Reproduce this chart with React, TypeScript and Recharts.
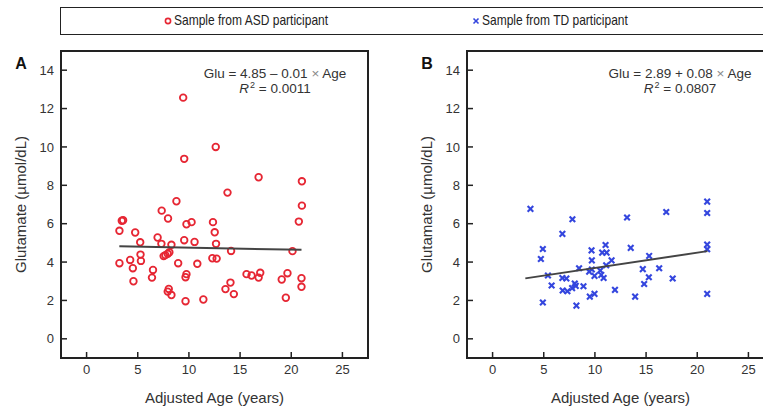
import { ScatterChart, Scatter, XAxis, YAxis, ReferenceArea } from 'recharts';

const ASD_COLOR = '#e62633';
const TD_COLOR = '#3446de';
const FIT_COLOR = '#444444';
const TEXT_COLOR = '#333333';

const AGE_TICKS = [0, 5, 10, 15, 20, 25];
const GLU_TICKS = [0, 2, 4, 6, 8, 10, 12, 14];

// Panel A: ASD participants
const ageA = [
  9.44, 12.62, 9.54, 16.81, 21.04, 13.77, 8.78, 21.04, 7.34, 3.44, 3.57, 7.96, 9.76, 10.26, 12.35, 20.74,
  3.21, 4.75, 12.52, 6.94, 5.24, 7.31, 8.29, 9.54, 10.55, 12.65, 14.12, 20.12, 5.27, 8.09, 7.93, 7.7, 7.53,
  4.26, 5.31, 3.21, 8.95, 10.82, 12.29, 12.71, 4.52, 6.49, 6.39, 9.76, 9.67, 4.58, 15.63, 16.12, 16.81,
  16.97, 19.07, 19.63, 21.0, 21.0, 14.06, 13.57, 14.39, 8.03, 7.93, 8.29, 9.67, 11.41, 19.47,
];
const gluA = [
  12.57, 10.0, 9.38, 8.42, 8.21, 7.62, 7.17, 6.94, 6.68, 6.15, 6.18, 6.27, 5.97, 6.08, 6.08, 6.11,
  5.63, 5.54, 5.55, 5.28, 5.03, 4.95, 4.9, 5.14, 5.05, 4.95, 4.58, 4.57, 4.39, 4.51, 4.43, 4.36, 4.31,
  4.11, 4.06, 3.94, 3.94, 3.91, 4.2, 4.18, 3.68, 3.59, 3.19, 3.37, 3.21, 3.0, 3.37, 3.3, 3.19,
  3.44, 3.09, 3.42, 3.16, 2.71, 2.93, 2.59, 2.33, 2.6, 2.46, 2.28, 1.96, 2.05, 2.14,
];
const fitAgeA = [3.2, 21.0];
const fitGluA = [4.82, 4.64];

// Panel B: TD participants
const ageB = [
  3.7, 20.97, 20.97, 16.97, 13.14, 7.8, 6.82, 4.91, 4.72, 20.97, 20.97, 13.5, 9.67, 11.04, 10.71, 11.14,
  9.7, 11.63, 15.3, 11.1, 5.41, 5.77, 4.91, 6.82, 7.21, 6.85, 7.31, 8.45, 7.77, 8.03, 8.13, 8.88, 8.19,
  9.44, 9.7, 9.96, 9.5, 9.96, 10.52, 10.62, 10.85, 11.96, 14.68, 16.28, 14.81, 15.27, 17.6, 13.93, 20.97,
];
const gluB = [
  6.77, 7.15, 6.56, 6.61, 6.32, 6.23, 5.47, 4.68, 4.16, 4.91, 4.67, 4.74, 4.61, 4.89, 4.49, 4.49,
  4.09, 4.09, 4.32, 3.83, 3.3, 2.78, 1.89, 3.17, 3.14, 2.52, 2.48, 3.68, 2.64, 2.88, 2.76, 2.74, 1.73,
  3.5, 3.61, 3.28, 2.2, 2.34, 3.56, 3.33, 3.17, 2.55, 3.63, 3.68, 2.86, 3.21, 3.14, 2.2, 2.34,
];
const fitAgeB = [3.2, 21.0];
const fitGluB = [3.15, 4.57];

const toPoints = (xs: number[], ys: number[]) => xs.map((x, i) => ({ x, y: ys[i] }));

const CircleShape = (props: any) => (
  <circle cx={props.cx} cy={props.cy} r={3.3} fill="none" stroke={ASD_COLOR} strokeWidth={1.8} />
);

const CrossShape = (props: any) => {
  const { cx, cy } = props;
  const s = 2.8;
  return (
    <g stroke={TD_COLOR} strokeWidth={2.1}>
      <line x1={cx - s} y1={cy - s} x2={cx + s} y2={cy + s} />
      <line x1={cx - s} y1={cy + s} x2={cx + s} y2={cy - s} />
    </g>
  );
};

const renderYTitle = (props: any) => {
  const vb = props.viewBox || { x: 0, y: 51, width: 61, height: 307 };
  const x = vb.x + vb.width - 41;
  const y = vb.y + vb.height / 2;
  return (
    <text x={x} y={y} transform={`rotate(-90 ${x} ${y})`} textAnchor="middle" dominantBaseline="central"
      fill={TEXT_COLOR} fontSize={15}>
      Glutamate (µmol/dL)
    </text>
  );
};

interface PanelProps {
  left: number;
  yAxisWidth: number;
  width: number;
  rightMargin: number;
  points: { x: number; y: number }[];
  fit: { x: number; y: number }[];
  shape: (p: any) => any;
}

function Panel({ left, yAxisWidth, width, rightMargin, points, fit, shape }: PanelProps) {
  return (
    <div style={{ position: 'absolute', left, top: 0 }}>
      <ScatterChart width={width} height={408} margin={{ top: 51, right: rightMargin, bottom: 0, left: 0 }}>
        <XAxis
          dataKey="x"
          type="number"
          domain={[-2.5, 27.5]}
          ticks={AGE_TICKS}
          allowDataOverflow
          height={50}
          axisLine={false}
          tickSize={-6}
          tickMargin={13}
          tickLine={{ stroke: '#222', strokeWidth: 1.5 }}
          tick={{ fill: TEXT_COLOR, fontSize: 13 }}
          label={{ value: 'Adjusted Age (years)', position: 'insideBottom', offset: 5, fill: TEXT_COLOR, fontSize: 15 }}
        />
        <YAxis
          dataKey="y"
          type="number"
          domain={[-1, 15]}
          ticks={GLU_TICKS}
          allowDataOverflow
          width={yAxisWidth}
          axisLine={false}
          tickSize={-6}
          tickMargin={13}
          tickLine={{ stroke: '#222', strokeWidth: 1.5 }}
          tick={{ fill: TEXT_COLOR, fontSize: 13 }}
          label={renderYTitle}
        />
        <ReferenceArea x1={-2.5} x2={27.5} y1={-1} y2={15} fill="none" fillOpacity={0} stroke="#222" strokeWidth={2} />
        <Scatter data={points} shape={shape} isAnimationActive={false} />
        <Scatter
          data={fit}
          shape={() => <g />}
          line={{ stroke: FIT_COLOR, strokeWidth: 2 }}
          isAnimationActive={false}
        />
      </ScatterChart>
    </div>
  );
}

const legendText: any = {
  position: 'absolute',
  top: 3,
  fontSize: 15,
  color: '#222',
  whiteSpace: 'nowrap',
  transform: 'scaleX(0.8)',
  transformOrigin: 'left center',
};

export default function App() {
  const font = '"Liberation Sans", Arial, sans-serif';
  return (
    <div style={{ position: 'absolute', left: 0, top: 0, width: 763, height: 408, overflow: 'hidden', background: '#fff', fontFamily: font }}>
      {/* shared legend */}
      <div style={{ position: 'absolute', left: 60, top: 7, width: 740, height: 28, border: '1.5px solid #222', boxSizing: 'border-box' }}>
        <svg width={12} height={12} style={{ position: 'absolute', left: 101, top: 7 }}>
          <circle cx={6} cy={6} r={2.6} fill="none" stroke={ASD_COLOR} strokeWidth={1.6} />
        </svg>
        <span style={{ ...legendText, left: 113 }}>Sample from ASD participant</span>
        <svg width={12} height={12} style={{ position: 'absolute', left: 409, top: 7 }}>
          <g stroke={TD_COLOR} strokeWidth={1.6}>
            <line x1={3.5} y1={3.5} x2={8.5} y2={8.5} />
            <line x1={3.5} y1={8.5} x2={8.5} y2={3.5} />
          </g>
        </svg>
        <span style={{ ...legendText, left: 421 }}>Sample from TD participant</span>
      </div>

      <Panel left={0} yAxisWidth={61} width={380} rightMargin={12} points={toPoints(ageA, gluA)} fit={toPoints(fitAgeA, fitGluA)} shape={CircleShape} />
      <Panel left={380} yAxisWidth={87} width={400} rightMargin={6} points={toPoints(ageB, gluB)} fit={toPoints(fitAgeB, fitGluB)} shape={CrossShape} />

      {/* panel letters and regression annotations */}
      <svg width={763} height={408} style={{ position: 'absolute', left: 0, top: 0, pointerEvents: 'none' }} fontFamily={font}>
        <text x={21} y={69} textAnchor="middle" fontWeight="bold" fontSize={16} fill="#111">A</text>
        <text x={427} y={69} textAnchor="middle" fontWeight="bold" fontSize={16} fill="#111">B</text>

        <text x={275} y={78} textAnchor="middle" fontSize={13.5} fill={TEXT_COLOR}>
          Glu = 4.85 – 0.01 <tspan fill="#888">×</tspan> Age
        </text>
        <text x={275} y={93} textAnchor="middle" fontSize={13.5} fill={TEXT_COLOR}>
          <tspan fontStyle="italic">R</tspan>
          <tspan dx={1} dy={-5} fontSize={9}>2</tspan>
          <tspan dy={5}> = 0.0011</tspan>
        </text>

        <text x={680} y={78} textAnchor="middle" fontSize={13.5} fill={TEXT_COLOR}>
          Glu = 2.89 + 0.08 <tspan fill="#888">×</tspan> Age
        </text>
        <text x={680} y={93} textAnchor="middle" fontSize={13.5} fill={TEXT_COLOR}>
          <tspan fontStyle="italic">R</tspan>
          <tspan dx={1} dy={-5} fontSize={9}>2</tspan>
          <tspan dy={5}> = 0.0807</tspan>
        </text>
      </svg>
    </div>
  );
}
